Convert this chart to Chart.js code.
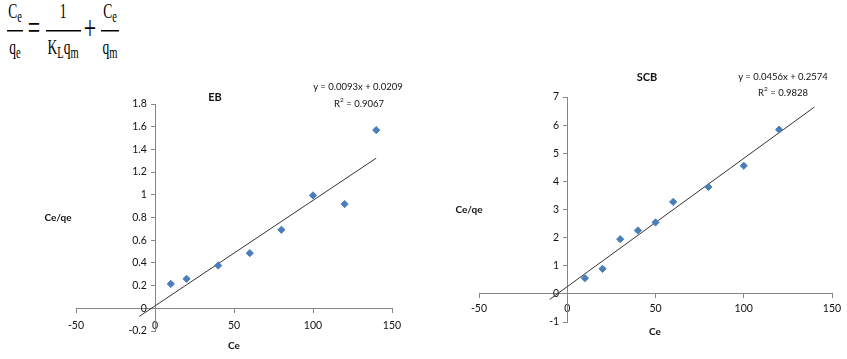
<!DOCTYPE html>
<html>
<head>
<meta charset="utf-8">
<script src="https://cdn.jsdelivr.net/npm/chart.js@4.4.1/dist/chart.umd.min.js"></script>
<style>
  body { margin: 0; background: #fff; width: 847px; height: 359px; overflow: hidden; position: relative; font-family: Lato, "Open Sans", sans-serif; color: #111; }
  canvas { position: absolute; }
  .lbl { position: absolute; white-space: nowrap; font-size: 9.5px; line-height: 12px; transform: translate(-50%, -50%); text-align: center; }
  .b { font-weight: bold; font-size: 10px; }
  .t { font-weight: bold; font-size: 11px; }
  /* equation is a stretched serif text, like the pasted Word image */
  #eq { position: absolute; left: 0; top: 0; width: 130px; height: 40px; transform: scaleY(1.5); transform-origin: 0 0;
        font-family: "Liberation Serif", "DejaVu Serif", serif; font-size: 13.5px; color: #000; }
  #eq div { position: absolute; line-height: 1; white-space: nowrap; transform: translateX(-50%); }
  #eq .bar { height: 1.4px; background: #000; transform: none; }
  #eq .op { font-size: 22px; }
  #eq sub { font-size: 10.5px; vertical-align: -2.5px; line-height: 0; }
</style>
</head>
<body>
<div id="eq">
  <div style="left:15px;top:0.5px">C<sub>e</sub></div>
  <div class="bar" style="left:7px;width:16px;top:20px"></div>
  <div style="left:15px;top:24.5px">q<sub>e</sub></div>

  <div class="op" style="left:34px;top:8px">=</div>

  <div style="left:63px;top:0.5px">1</div>
  <div class="bar" style="left:46px;width:35px;top:20px"></div>
  <div style="left:63px;top:24.5px">K<sub>L</sub>q<sub>m</sub></div>

  <div class="op" style="left:90px;top:8px">+</div>

  <div style="left:110px;top:0.5px">C<sub>e</sub></div>
  <div class="bar" style="left:101px;width:18px;top:20px"></div>
  <div style="left:110px;top:24.5px">q<sub>m</sub></div>
</div>

<canvas id="ebChart" width="420" height="299" style="left:0;top:60px"></canvas>
<canvas id="scbChart" width="417" height="299" style="left:430px;top:60px"></canvas>

<div class="lbl t" style="left:215px;top:97px">EB</div>
<div class="lbl" style="left:358px;top:87px">y = 0.0093x + 0.0209</div>
<div class="lbl" style="left:359px;top:102px">R<sup style="font-size:6.5px">2</sup> = 0.9067</div>
<div class="lbl b" style="left:58px;top:217px">Ce/qe</div>
<div class="lbl b" style="left:234px;top:345px">Ce</div>

<div class="lbl t" style="left:647px;top:77px">SCB</div>
<div class="lbl" style="left:783px;top:77px">y = 0.0456x + 0.2574</div>
<div class="lbl" style="left:783px;top:91px">R<sup style="font-size:6.5px">2</sup> = 0.9828</div>
<div class="lbl b" style="left:469px;top:209px">Ce/qe</div>
<div class="lbl b" style="left:655px;top:331px">Ce</div>

<script>
// EB
var ebCe = [10, 20, 40, 60, 80, 100, 120, 140];
var ebCeQe = [0.215, 0.26, 0.377, 0.486, 0.692, 0.995, 0.918, 1.57];
var ebSlope = 0.0093, ebIntercept = 0.0209;

// SCB
var scbCe = [10, 20, 30, 40, 50, 60, 80, 100, 120];
var scbCeQe = [0.56, 0.89, 1.945, 2.254, 2.54, 3.27, 3.80, 4.555, 5.84];
var scbSlope = 0.0456, scbIntercept = 0.2574;

// trendline range (Excel linear trendline drawn from -10 to 140 on both)
var trendFrom = -10, trendTo = 140;

var markerBlue = '#4a7ebb';
var axisGrey = '#868686';
var tickFont = { family: 'Lato, "Open Sans", sans-serif', size: 10.5 };

function points(xs, ys) {
    return xs.map(function (x, i) { return { x: x, y: ys[i] }; });
}

function trend(slope, intercept) {
    return [trendFrom, trendTo].map(function (x) { return { x: x, y: slope * x + intercept }; });
}

function makeChart(id, xs, ys, slope, intercept, yMin, yMax, yStep, xPad, pad) {
    var ctx = document.getElementById(id).getContext('2d');
    return new Chart(ctx, {
        type: 'scatter',
        data: {
            datasets: [{
                data: points(xs, ys),
                pointStyle: 'rectRot',
                pointRadius: 3.6,
                backgroundColor: markerBlue,
                borderColor: markerBlue,
                borderWidth: 1
            }, {
                data: trend(slope, intercept),
                showLine: true,
                pointRadius: 0,
                borderColor: '#333',
                borderWidth: 1
            }]
        },
        options: {
            responsive: false,
            animation: false,
            layout: { padding: pad },
            plugins: { legend: { display: false }, tooltip: { enabled: false } },
            scales: {
                x: {
                    type: 'linear',
                    position: { y: 0 },
                    min: -50, max: 150,
                    ticks: { stepSize: 50, padding: xPad, color: '#111', font: tickFont },
                    grid: { drawOnChartArea: false, tickLength: 4, color: axisGrey },
                    border: { color: axisGrey },
                    afterFit: function (s) { s.height = 0; }
                },
                y: {
                    type: 'linear',
                    position: { x: 0 },
                    min: yMin, max: yMax,
                    ticks: {
                        stepSize: yStep, color: '#111', font: tickFont,
                        // labels sit on the axis line when it is placed at x = 0, so pad them with spaces
                        callback: function (v) { return String(Math.round(v * 10) / 10) + '   '; }
                    },
                    grid: { drawOnChartArea: false, tickLength: 4, color: axisGrey },
                    border: { color: axisGrey },
                    afterFit: function (s) { s.width = 0; }
                }
            }
        }
    });
}

makeChart('ebChart', ebCe, ebCeQe, ebSlope, ebIntercept, -0.2, 1.8, 0.2, 7,
    { left: 76, right: 28, top: 44, bottom: 28 });
makeChart('scbChart', scbCe, scbCeQe, scbSlope, scbIntercept, -1, 7, 1, 4,
    { left: 49, right: 15, top: 37, bottom: 37 });
</script>
</body>
</html>
